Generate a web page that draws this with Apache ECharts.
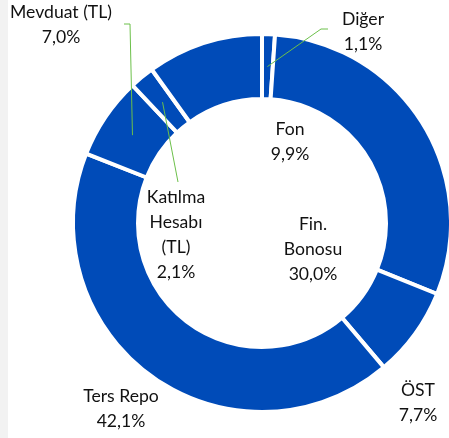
<!DOCTYPE html>
<html>
<head>
<meta charset="utf-8">
<script src="https://cdn.jsdelivr.net/npm/echarts@6/dist/echarts.min.js"></script>
<style>
  html, body { margin: 0; padding: 0; background: #fff; }
  #chart { width: 449px; height: 438px; background: linear-gradient(to right, #f2f2f2 8px, #fff 8px); }
</style>
</head>
<body>
<div id="chart"></div>
<script>
// slices, clockwise from 12 o'clock
const names = ['Diğer', 'Fin.\nBonosu', 'ÖST', 'Ters Repo', 'Mevduat (TL)', 'Katılma\nHesabı\n(TL)', 'Fon'];
const shares = [1.1, 30.0, 7.7, 42.1, 7.0, 2.1, 9.9];

// where each label sits (px) and the bend/end of the green leader lines
const labelAt = [[363, 32], [313, 249], [418, 403], [121, 409], [61, 25], [176, 235], [290, 142]];
const leaderEnd = {
  0: [[321, 29], [328, 29]],
  4: [[130, 24], [124, 24]],
  5: [[178, 182], [178, 182]]
};

const cx = 262, cy = 223, rIn = 124, rOut = 189;
const total = shares.reduce((a, b) => a + b, 0);

function midPoint(i) {
  let before = 0;
  for (let k = 0; k < i; k++) before += shares[k];
  const mid = before + shares[i] / 2;
  const a = (90 - mid / total * 360) * Math.PI / 180;
  const r = (rIn + rOut) / 2;
  return [cx + r * Math.cos(a), cy - r * Math.sin(a)];
}

const fmt = v => v.toFixed(1).replace('.', ',') + '%';

const ring = {
  type: 'pie',
  center: [cx, cy],
  radius: [rIn, rOut],
  startAngle: 90,
  clockwise: true,
  avoidLabelOverlap: false,
  silent: true
};

let chart = echarts.init(document.getElementById('chart'));
chart.setOption({
  animation: false,
  series: [
    // the blue ring
    Object.assign({}, ring, {
      z: 1,
      itemStyle: { color: '#004BB8', borderColor: '#fff', borderWidth: 4 },
      label: { show: false },
      labelLine: { show: false },
      data: names.map((n, i) => ({ name: n, value: shares[i] }))
    }),
    // same slices, invisible, carrying labels and leader lines on top
    Object.assign({}, ring, {
      z: 5,
      itemStyle: { color: 'rgba(0,0,0,0)', borderWidth: 0 },
      label: {
        show: true,
        position: 'outside',
        formatter: p => p.name + '\n' + fmt(p.value),
        fontFamily: 'Lato',
        fontSize: 17.6,
        lineHeight: 25,
        color: '#111',
        align: 'center'
      },
      labelLine: { show: false, lineStyle: { color: '#6CC04A', width: 1 } },
      labelLayout: p => {
        const i = p.dataIndex;
        const out = { x: labelAt[i][0], y: labelAt[i][1], align: 'center', verticalAlign: 'middle' };
        if (leaderEnd[i]) out.labelLinePoints = [midPoint(i)].concat(leaderEnd[i]);
        return out;
      },
      data: names.map((n, i) => ({
        name: n,
        value: shares[i],
        labelLine: { show: i in leaderEnd }
      }))
    })
  ]
});
</script>
</body>
</html>
